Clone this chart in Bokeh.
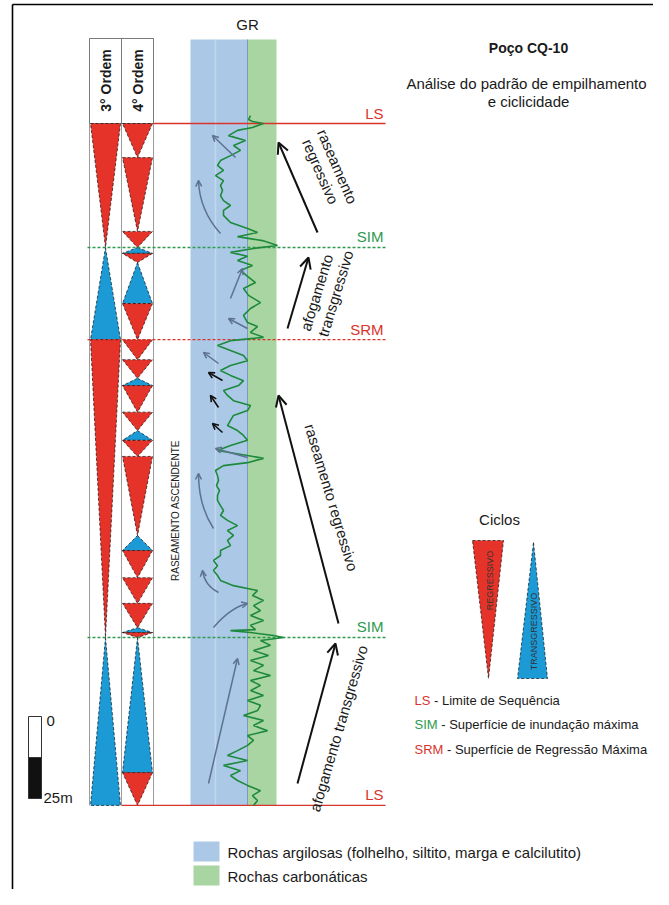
from bokeh.plotting import figure
from bokeh.models import Range1d, Label, Arrow, OpenHead
from bokeh.embed import file_html
from bokeh.resources import INLINE

# ---------------------------------------------------------------- data
# stratigraphic surfaces (depth in metres below the upper sequence limit)
surface_names = ["LS", "SIM", "SRM", "SIM", "LS"]
surface_depth = [0.0, 37.8, 65.9, 156.7, 207.9]

# 3rd-order cycles: R = regressive (red), T = transgressive (blue)
third_bounds = [0.0, 37.8, 65.9, 156.7, 207.9]
third_type = ["R", "T", "R", "T"]

# 4th-order cycles
fourth_bounds = [0.0, 10.4, 32.9, 37.8, 39.6, 42.4, 54.9, 65.9, 72.0, 77.7,
                 79.9, 88.0, 93.6, 96.6, 101.5, 125.6, 130.2, 138.5, 146.3,
                 153.7, 155.2, 156.7, 197.9, 207.9]
fourth_type = ["R", "R", "R", "T", "R", "T", "R", "R", "R", "T", "R", "R",
               "T", "R", "R", "T", "R", "R", "R", "T", "R", "T", "R"]

# gamma-ray log (API)
gr_depth = [-2.4, -1.2, -0.6, 0.0, 1.2, 2.1, 3.7, 5.2, 6.7, 8.2, 9.8, 11.3,
            12.8, 14.3, 15.9, 17.4, 18.9, 20.4, 22.0, 23.5, 25.0, 26.5, 28.0, 30.2,
            32.0, 33.2, 34.5, 35.7, 37.2, 38.1, 39.3, 40.5, 41.8, 43.3, 44.8, 46.6,
            48.5, 50.3, 52.4, 54.6, 56.4, 58.5, 60.7, 61.9, 63.7, 65.2, 66.2, 67.7,
            69.2, 70.7, 72.3, 73.8, 75.3, 76.8, 78.4, 79.9, 81.4, 82.9, 84.5, 86.0,
            87.5, 89.0, 90.5, 92.1, 93.6, 95.1, 96.6, 98.2, 99.7, 101.2, 102.1, 103.4,
            104.3, 105.8, 107.3, 108.8, 110.4, 111.9, 113.4, 114.9, 116.5, 118.0, 119.5, 121.0,
            122.6, 124.1, 125.6, 127.1, 128.7, 130.2, 131.7, 133.2, 134.8, 136.3, 137.8, 139.3,
            140.9, 142.4, 143.9, 145.4, 147.0, 148.5, 150.0, 151.5, 153.0, 154.3, 154.6, 155.2,
            156.1, 156.7, 157.6, 159.1, 160.7, 162.2, 163.7, 165.2, 166.8, 168.3, 169.8, 171.3,
            172.9, 174.4, 175.9, 177.4, 179.0, 180.5, 182.0, 183.5, 185.1, 186.6, 188.1, 189.6,
            191.2, 192.7, 194.2, 195.7, 197.3, 198.8, 200.3, 201.8, 203.4, 204.9, 206.4, 207.9]
gr_api = [50, 52, 48, 37, 48, 63, 72, 55, 67, 60, 70, 80,
          83, 77, 85, 77, 80, 78, 80, 77, 70, 77, 77, 70,
          53, 43, 63, 38, 23, 47, 70, 53, 63, 48, 60, 53,
          45, 57, 52, 40, 50, 57, 53, 43, 50, 37, 70, 83,
          70, 57, 53, 70, 80, 70, 57, 62, 77, 73, 67, 50,
          53, 67, 70, 73, 63, 57, 53, 70, 83, 53, 37, 53,
          77, 85, 83, 82, 84, 81, 83, 83, 80, 77, 80, 73,
          63, 73, 67, 73, 70, 80, 80, 87, 83, 87, 83, 80,
          67, 43, 48, 37, 47, 40, 50, 37, 50, 45, 70, 50,
          27, 17, 40, 30, 47, 32, 50, 37, 47, 30, 50, 40,
          50, 37, 53, 40, 43, 57, 37, 47, 33, 53, 47, 53,
          63, 73, 53, 77, 60, 70, 63, 53, 40, 48, 43, 47]

# lithology track limits (API)
shale_gr = (110, 53)
carbonate_gr = (53, 24)
scale_bar_m = 25

# ---------------------------------------------------------------- layout
W, H = 653, 889
DEPTH0_PX = 123          # picture row of depth 0
PX_PER_M = 3.28
GR_ZERO_PX = 300         # picture column where GR would be 0 (reversed scale)
FONT = "Liberation Sans"

RED = "#e5332a"
BLUE = "#1c9ad6"
LRED = "#d8342c"
LGREEN = "#2e9a4f"

p = figure(width=W, height=H, output_backend="svg", toolbar_location=None,
           x_axis_type=None, y_axis_type=None, min_border=0,
           outline_line_color=None, background_fill_color="white",
           border_fill_color="white",
           x_range=Range1d(0, W),
           y_range=Range1d((H - DEPTH0_PX) / PX_PER_M, -DEPTH0_PX / PX_PER_M))
p.extra_y_ranges = {"px": Range1d(H, 0)}
p.extra_x_ranges = {"gr": Range1d(GR_ZERO_PX, GR_ZERO_PX - W)}


def label(x, y, text, size=15, color="#1a1a1a", align="center", baseline="middle",
          angle=0, bold=False, rng="px", yoff=0):
    p.add_layout(Label(x=x, y=y, text=text, y_range_name=rng, text_font=FONT,
                       text_font_size=f"{size}px", text_color=color,
                       text_align=align, text_baseline=baseline, angle=angle,
                       angle_units="deg", y_offset=yoff,
                       text_font_style="bold" if bold else "normal"))


def arrow(x0, y0, x1, y1, color, width, size, body=True):
    p.add_layout(Arrow(x_start=x0, y_start=y0, x_end=x1, y_end=y1, y_range_name="px",
                       line_color=color, line_width=width, line_alpha=1 if body else 0,
                       end=OpenHead(size=size, line_color=color, line_width=width)))


# outer frame
p.segment(x0=[12, 12], y0=[4, 4], x1=[12, W], y1=[H, 4],
          y_range_name="px", line_color="black", line_width=1.6)

# ---------------- lithology bands (GR track)
track_top = (39 - DEPTH0_PX) / PX_PER_M
track_base = surface_depth[-1]
p.quad(left=[shale_gr[0]], right=[shale_gr[1]], top=[track_top], bottom=[track_base],
       x_range_name="gr", fill_color="#abc9e7", line_color=None)
p.quad(left=[carbonate_gr[0]], right=[carbonate_gr[1]], top=[track_top], bottom=[track_base],
       x_range_name="gr", fill_color="#a9d5a2", line_color=None)
p.segment(x0=[85], x1=[85], y0=[track_top], y1=[track_base], x_range_name="gr",
          line_color="#c3d8ee", line_width=1.5)
p.segment(x0=[shale_gr[1]], x1=[shale_gr[1]], y0=[track_top], y1=[track_base],
          x_range_name="gr", line_color="#7d9cbc", line_width=1)
label(247, 24, "GR", size=15)

# ---------------- columns of cycles
col_l, col_m, col_r = 89, 121, 153
p.segment(x0=[col_l, col_m, col_r], x1=[col_l, col_m, col_r], y0=[38] * 3, y1=[805] * 3,
          y_range_name="px", line_color="#9c9c9c", line_width=1)
p.quad(left=[col_l], right=[col_r], top=[38], bottom=[123], y_range_name="px",
       fill_color="white", line_color="#7a7a7a", line_width=1)
p.segment(x0=[col_m], x1=[col_m], y0=[38], y1=[123], y_range_name="px",
          line_color="#7a7a7a", line_width=1)
label((col_l + col_m) / 2, 80, "3° Ordem", size=14, bold=True, angle=90)
label((col_m + col_r) / 2, 80, "4° Ordem", size=14, bold=True, angle=90)


def cycles(bounds, kinds, xl, xr):
    xc = (xl + xr) / 2
    xs, ys, cs = [], [], []
    for top, base, k in zip(bounds[:-1], bounds[1:], kinds):
        if k == "R":
            xs.append([xl, xr, xc]); ys.append([top, top, base]); cs.append(RED)
        else:
            xs.append([xc, xr, xl]); ys.append([top, base, base]); cs.append(BLUE)
    p.patches(xs, ys, fill_color=cs, line_color="#111111", line_width=0.7, line_dash="3 2")


cycles(third_bounds, third_type, col_l + 1, col_m - 1)
cycles(fourth_bounds, fourth_type, col_m + 1, col_r - 1)

# ---------------- surfaces
surf_x0 = [col_r, 87, 87, 87, col_m]
surf_x1 = 385
styles = {"LS": (LRED, "solid"), "SIM": (LGREEN, "3 2"), "SRM": (LRED, "3 2")}
for name, d, x0 in zip(surface_names, surface_depth, surf_x0):
    c, dash = styles[name]
    p.line([x0, surf_x1], [d, d], line_color=c, line_width=1.3, line_dash=dash)
    label(383, d, name, size=15, color=c, align="right", baseline="bottom",
          rng="default", yoff=2)

# ---------------- GR curve
p.line(gr_api, gr_depth, x_range_name="gr", line_color="#1d8a3b", line_width=1.6)

# ---------------- arrows inside the GR track
GRAY = "#5d7190"
straight = [(235, 157, 212, 135), (230, 298, 242, 268), (247, 328, 228, 318),
            (218, 363, 203, 352), (247, 457, 215, 448), (208, 783, 237, 658)]
for a in straight:
    arrow(*a, GRAY, 1.5, 6)
curved = [(220, 233, 199, 210, 198, 180), (213, 528, 198, 505, 198, 473),
          (218, 592, 204, 585, 202, 570), (213, 627, 230, 607, 247, 603)]
for x0, y0, cx, cy, x1, y1 in curved:
    p.quadratic(x0=[x0], y0=[y0], cx=[cx], cy=[cy], x1=[x1], y1=[y1],
                y_range_name="px", line_color=GRAY, line_width=1.5)
    arrow(x1 + 0.3 * (cx - x1), y1 + 0.3 * (cy - y1), x1, y1, GRAY, 1.5, 6, body=False)
for a in [(222, 380, 208, 372), (218, 407, 210, 395), (222, 432, 212, 423)]:
    arrow(*a, "#111111", 1.6, 6)

# ---------------- big trend arrows and their texts
for a in [(317, 232, 278, 142), (287, 328, 308, 257), (338, 623, 278, 395), (297, 783, 335, 643)]:
    arrow(*a, "#111111", 2, 11)
label(337, 166, "raseamento", angle=-66.6)
label(320, 171, "regressivo", angle=-66.6)
label(316, 292, "afogamento", angle=73)
label(335, 293, "transgressivo", angle=73)
label(331, 497, "raseamento regressivo", angle=-73.3)
label(338, 728, "afogamento transgressivo", angle=73.7)
label(175, 510, "RASEAMENTO ASCENDENTE", size=10, angle=90, color="#222222")

# ---------------- scale bar
bar_top = 716
bar_mid = bar_top + scale_bar_m * PX_PER_M / 2
bar_bot = bar_top + scale_bar_m * PX_PER_M
p.quad(left=[28, 28], right=[41, 41], top=[bar_top, bar_mid], bottom=[bar_mid, bar_bot],
       y_range_name="px", fill_color=["white", "#111111"], line_color="#333333", line_width=1)
label(46, 720, "0", align="left")
label(43, 797, f"{scale_bar_m}m", align="left")

# ---------------- titles
label(528, 47, "Poço CQ-10", size=14, bold=True)
label(526, 83, "Análise do padrão de empilhamento", size=15)
label(528, 101, "e ciclicidade", size=15)

# ---------------- cycle legend
label(499, 519, "Ciclos", size=15)
p.patches([[472, 503, 488], [533, 547, 517]], [[540, 540, 678], [542, 678, 678]],
          y_range_name="px", fill_color=[RED, BLUE], line_color="#111111",
          line_width=0.7, line_dash="3 2")
label(489, 580, "REGRESSIVO", size=9, angle=90, color="#333333")
label(533, 631, "TRANSGRESSIVO", size=9, angle=90, color="#333333")

# surface legend
ARIAL_W = {"L": 0.556, "S": 0.667, "I": 0.278, "M": 0.833, "R": 0.722}
leg_size = 13
legend_rows = [("LS", LRED, "\u00a0- Limite de Sequência", 700),
               ("SIM", LGREEN, "\u00a0- Superfície de inundação máxima", 724),
               ("SRM", LRED, "\u00a0- Superfície de Regressão Máxima", 749)]
for abbr, c, rest, y in legend_rows:
    label(414, y, abbr, size=leg_size, color=c, align="left")
    w = sum(ARIAL_W[ch] for ch in abbr) * leg_size
    label(414 + w, y, rest, size=leg_size, align="left")

# lithology legend
p.quad(left=[193, 193], right=[219, 219], top=[841, 865], bottom=[861, 885],
       y_range_name="px", fill_color=["#abc9e7", "#a9d5a2"], line_color=None)
label(227, 852, "Rochas argilosas (folhelho, siltito, marga e calcilutito)", size=15, align="left")
label(227, 876, "Rochas carbonáticas", size=15, align="left")

open("out.html", "w").write(file_html(p, INLINE))
